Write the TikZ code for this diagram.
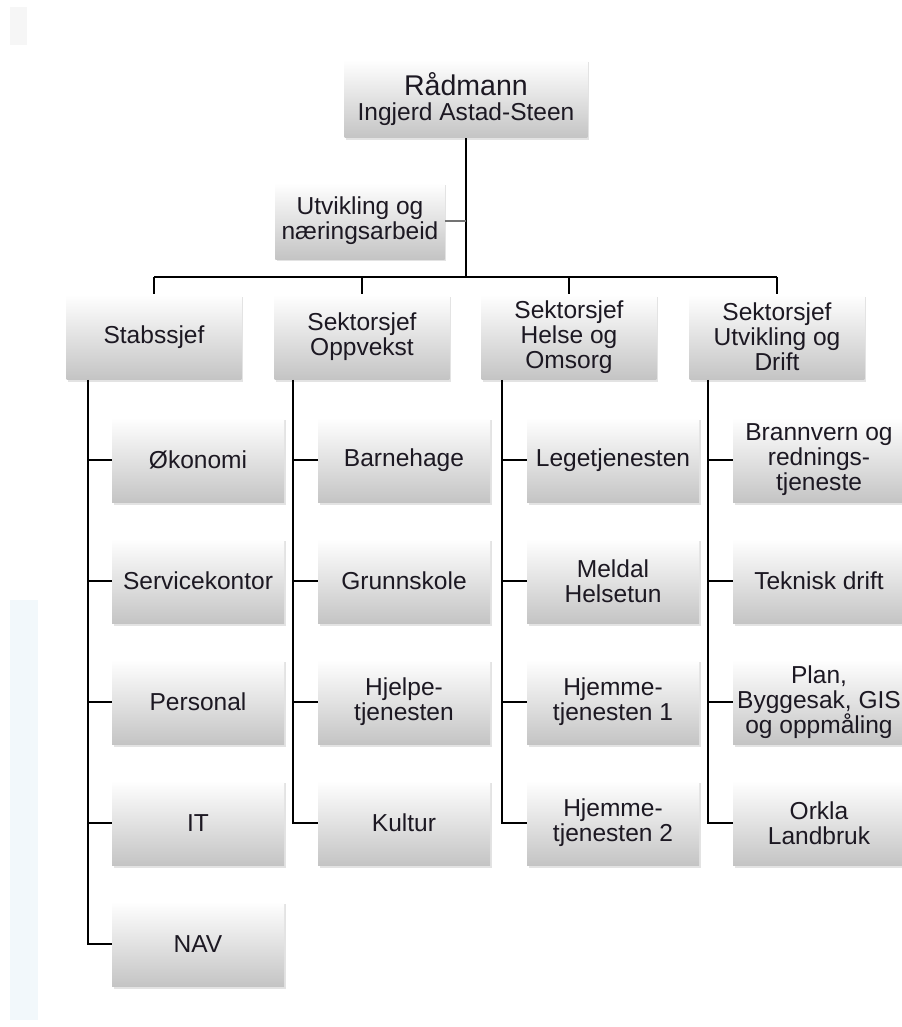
\documentclass[tikz,border=0pt]{standalone}
\usepackage{fontspec}
\setmainfont{Liberation Sans}
\usetikzlibrary{shadows}

\definecolor{txt}{RGB}{28,24,34}
\definecolor{boxbot}{RGB}{196,196,196}
\definecolor{boxmid}{RGB}{238,238,238}
\definecolor{bandblue}{RGB}{242,248,251}
\definecolor{bargray}{RGB}{246,246,246}

\begin{document}
\begin{tikzpicture}[
    x=0.75pt, y=-0.75pt,
    box/.style={rectangle, align=center, text=txt, inner sep=2pt,
        font=\fontsize{18.4}{18.75}\selectfont,
        top color=white, middle color=boxmid, bottom color=boxbot,
        drop shadow={shadow xshift=1.2pt, shadow yshift=-1.8pt, opacity=0.22}},
    root/.style={box, minimum width=182pt, minimum height=58.5pt},
    staff/.style={box, minimum width=127pt, minimum height=57pt},
    head/.style={box, minimum width=131pt, minimum height=63.75pt},
    unit/.style={box, minimum width=129pt, minimum height=63.75pt},
    line/.style={draw=black, line width=1.4pt},
    thin/.style={draw=black!55, line width=1.2pt}
]
    \useasboundingbox (0,0) rectangle (901,1027);

    % faint background marks
    \fill[bargray] (10,7) rectangle (27,45);
    \fill[bandblue] (10,600) rectangle (38,1020);

    % Radmann
    \node[root] (root) at (466,99) {{\fontsize{21.4}{24}\selectfont R\aa dmann}\\Ingjerd Astad-Steen};
    \node[staff] (utv) at (360,221) {Utvikling og\\næringsarbeid};

    % Sektorsjefer
    \node[head] (stab)  at (154,337) {Stabssjef};
    \node[head] (opp)   at (362,337) {Sektorsjef\\Oppvekst};
    \node[head] (helse) at (569,337) {Sektorsjef\\Helse og\\Omsorg};
    \node[head] (drift) at (777,337) {Sektorsjef\\Utvikling og\\Drift};

    % Stab
    \node[unit] (oko)     at (198,460) {Økonomi};
    \node[unit] (service) at (198,581) {Servicekontor};
    \node[unit] (pers)    at (198,702) {Personal};
    \node[unit] (it)      at (198,823) {IT};
    \node[unit] (nav)     at (198,944) {NAV};

    % Oppvekst
    \node[unit] (barne)  at (404,460) {Barnehage};
    \node[unit] (grunn)  at (404,581) {Grunnskole};
    \node[unit] (hjelp)  at (404,702) {Hjelpe-\\tjenesten};
    \node[unit] (kultur) at (404,823) {Kultur};

    % Helse og omsorg
    \node[unit] (lege)  at (613,460) {Legetjenesten};
    \node[unit] (meldal) at (613,581) {Meldal\\Helsetun};
    \node[unit] (hjem1) at (613,702) {Hjemme-\\tjenesten 1};
    \node[unit] (hjem2) at (613,823) {Hjemme-\\tjenesten 2};

    % Utvikling og drift
    \node[unit] (brann) at (819,460) {Brannvern og\\rednings-\\tjeneste};
    \node[unit] (tekn)  at (819,581) {Teknisk drift};
    \node[unit] (plan)  at (819,702) {Plan,\\Byggesak, GIS\\og oppmåling};
    \node[unit] (orkla) at (819,823) {Orkla\\Landbruk};

    % Linjer
    \coordinate (busL) at (154,277);
    \coordinate (busR) at (777,277);
    \coordinate (trunkA) at (88,0);
    \coordinate (trunkB) at (293,0);
    \coordinate (trunkC) at (502,0);
    \coordinate (trunkD) at (708,0);

    \draw[line] (root.south) -- (root.south |- busL);
    \draw[thin] (utv.east) -- (utv.east -| root.south);
    \draw[line] (busL) -- (busR);
    \foreach \h in {stab, opp, helse, drift}
        \draw[line] (\h.north |- busL) -- (\h.north);

    \draw[line] (stab.south -| trunkA) |- (nav.west);
    \foreach \u in {oko, service, pers, it}
        \draw[line] (\u.west -| trunkA) -- (\u.west);

    \draw[line] (opp.south -| trunkB) |- (kultur.west);
    \foreach \u in {barne, grunn, hjelp}
        \draw[line] (\u.west -| trunkB) -- (\u.west);

    \draw[line] (helse.south -| trunkC) |- (hjem2.west);
    \foreach \u in {lege, meldal, hjem1}
        \draw[line] (\u.west -| trunkC) -- (\u.west);

    \draw[line] (drift.south -| trunkD) |- (orkla.west);
    \foreach \u in {brann, tekn, plan}
        \draw[line] (\u.west -| trunkD) -- (\u.west);
\end{tikzpicture}
\end{document}
